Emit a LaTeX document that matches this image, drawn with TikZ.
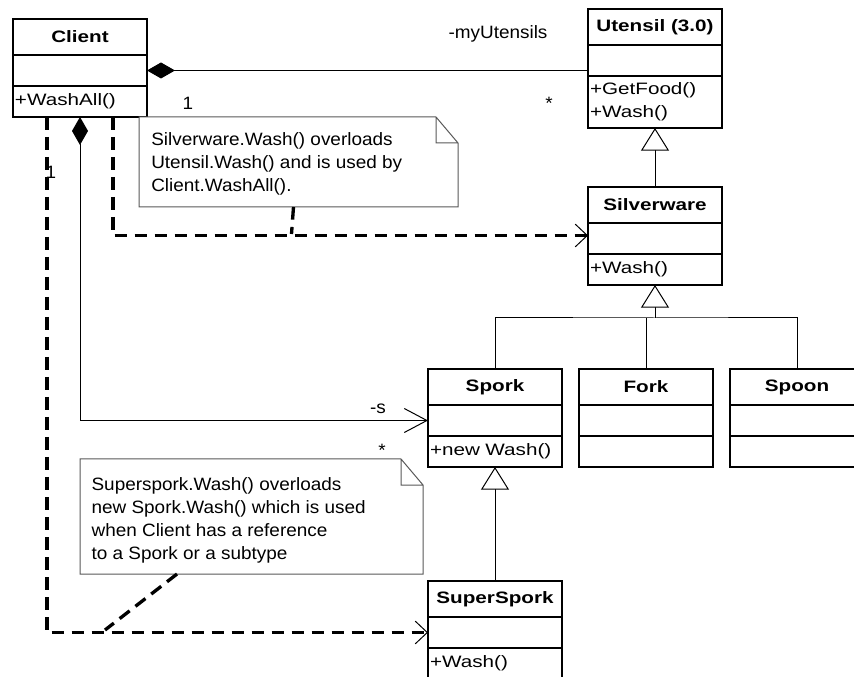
\documentclass[tikz,border=0pt]{standalone}
\usepackage{fontspec}
\setmainfont{Liberation Sans}[FakeStretch=1.25]
\newfontfamily\memofont{Liberation Sans}[FakeStretch=1.06]
\usetikzlibrary{arrows.meta,positioning,calc}
\newcommand{\betu}{\fontsize{12.4pt}{17.25pt}\selectfont}
\newcommand{\mbetu}{\memofont\fontsize{13.4pt}{17.25pt}\selectfont}
\tikzset{
  hdr/.style={draw,line width=1.1pt,outer sep=0pt,inner sep=0pt,minimum width=100.5pt,
    minimum height=27pt,font=\betu\bfseries,anchor=north west},
  cmp/.style={draw,line width=1.1pt,outer sep=0pt,inner xsep=1.5pt,inner ysep=0pt,
    minimum width=100.5pt,minimum height=23.25pt,text width=97.5pt,align=left,font=\betu},
  memo/.style={inner sep=0pt,outer sep=0pt,anchor=north west},
  memotxt/.style={inner sep=0pt,align=left,font=\mbetu,anchor=west},
  memoline/.style={draw=black!65,line width=0.75pt},
  lbl/.style={inner sep=0pt,anchor=base,font=\mbetu},
  comp/.style={line width=0.75pt,{Diamond[length=21pt,width=12pt]}-},
  nav/.style={line width=0.75pt,{Diamond[length=21pt,width=12pt]}-{Straight Barb[length=17pt,width=18pt]}},
  inh/.style={line width=0.75pt,-{Triangle[length=17pt,width=21pt,fill=white]}},
  dep/.style={line width=2.5pt,dash pattern=on 9.5pt off 5.5pt},
  deparr/.style={dep,-{Straight Barb[length=9pt,width=17pt,line width=0.75pt]}},
}
\newcommand{\notebox}[1]{%
  \draw[memoline] (#1.north west) -- ($(#1.north east)+(-22,0)$) -- ($(#1.north east)+(0,26)$)
    -- (#1.south east) -- (#1.south west) -- cycle
    ($(#1.north east)+(-22,0)$) |- ($(#1.north east)+(0,26)$);}

\begin{document}
\begin{tikzpicture}[x=0.75pt,y=-0.75pt]
  \path[use as bounding box,fill=white] (0,0) rectangle (854,677);

  \node[hdr] (client) at (13,19) {Client};
  \node[cmp,below=0pt of client] (client-a) {};
  \node[cmp,below=0pt of client-a] (client-o) {+WashAll()};

  \node[hdr] (utensil) at (588,9) {Utensil (3.0)};
  \node[cmp,below=0pt of utensil] (utensil-a) {};
  \node[cmp,below=0pt of utensil-a,minimum height=39pt] (utensil-o) {+GetFood()\\+Wash()};

  \node[hdr] (silver) at (588,187) {Silverware};
  \node[cmp,below=0pt of silver] (silver-a) {};
  \node[cmp,below=0pt of silver-a] (silver-o) {+Wash()};

  \node[hdr] (spork) at (428,369) {Spork};
  \node[cmp,below=0pt of spork] (spork-a) {};
  \node[cmp,below=0pt of spork-a] (spork-o) {+new Wash()};

  \node[hdr] (fork) at (579,369) {Fork};
  \node[cmp,below=0pt of fork] (fork-a) {};
  \node[cmp,below=0pt of fork-a] (fork-o) {};

  \node[hdr] (spoon) at (730,369) {Spoon};
  \node[cmp,below=0pt of spoon] (spoon-a) {};
  \node[cmp,below=0pt of spoon-a] (spoon-o) {};

  \node[hdr] (super) at (428,581) {SuperSpork};
  \node[cmp,below=0pt of super] (super-a) {};
  \node[cmp,below=0pt of super-a] (super-o) {+Wash()};

  \node[memo,minimum width=239.25pt,minimum height=67.5pt,fill=white] (n1) at (139,117) {};
  \notebox{n1}
  \node[memotxt,right=9pt of n1.west,yshift=-1.5pt] (n1t)
    {Silverware.Wash() overloads\\Utensil.Wash() and is used by\\Client.WashAll().};
  \node[memo,minimum width=257.25pt,minimum height=86.25pt,fill=white] (n2) at (80,459) {};
  \notebox{n2}
  \node[memotxt,right=8.5pt of n2.west,yshift=-3pt] (n2t)
    {Superspork.Wash() overloads\\new Spork.Wash() which is used\\when Client has a reference\\to a Spork or a subtype};

  \draw[comp] (client-a.east) -- (client-a.east -| utensil.west);
  \draw[nav] (client-o.south) |- (spork-a.west);
  \draw[deparr] ($(client-o.south east)+(-34,0)$) |- ($(silver-a.west)+(0,-3)$);
  \draw[deparr] ($(client-o.south west)+(34,0)$) |- (super-a.west);
  \coordinate (j1) at ($(n1.south)+(-7,27)$);
  \draw[dep] ($(n1.south)+(-5,0)$) -- (j1);
  \coordinate (j2) at ($(n2.south west)+(25,56)$);
  \draw[dep] ($(n2.south west)+(97,0)$) -- (j2);

  \draw[inh] (silver.north) -- (utensil-o.south);
  \coordinate (bar) at ($(silver-o.south)+(0,33)$);
  \draw[inh] (bar) -- (silver-o.south);
  \draw[line width=0.75pt] (spork.north) |- (bar) -| (spoon.north);
  \draw[line width=0.75pt] (fork.north) -- (fork.north |- bar);
  \draw[inh] (super.north) -- (spork-o.south);

  \node[lbl] (l-mu) at (498,39) {-myUtensils};
  \node[lbl] (l-one) at (188,110) {1};
  \node[lbl] (l-star) at (549,110) {*};
  \node[lbl] (l-s) at (378,414) {-s};
  \node[lbl] (l-star2) at (382,456) {*};
  \node[lbl] (l-one2) at (51,179) {1};
\end{tikzpicture}
\end{document}
